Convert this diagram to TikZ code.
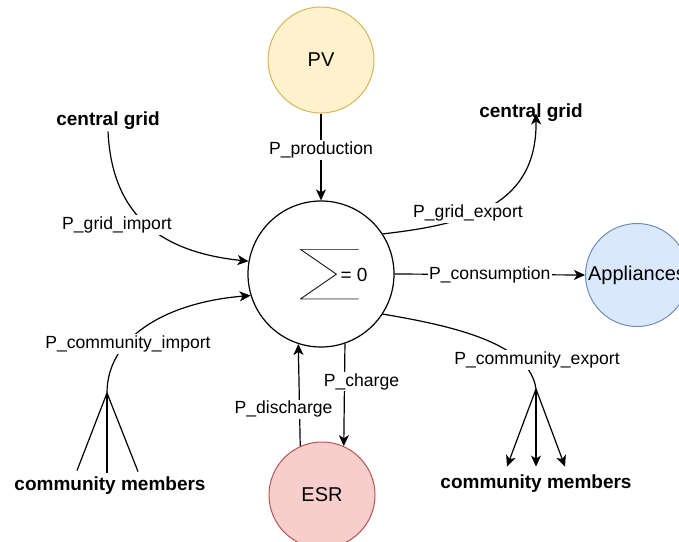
\documentclass[tikz,border=0pt]{standalone}
\usepackage{fontspec}
\setmainfont{Liberation Sans}
\newfontfamily\sigfont{Lato Thin}
\usetikzlibrary{arrows.meta}
\definecolor{pvfill}{HTML}{FFF2CC}
\definecolor{pvline}{HTML}{D6B656}
\definecolor{esrfill}{HTML}{F8CECC}
\definecolor{esrline}{HTML}{B85450}
\definecolor{appfill}{HTML}{DAE8FC}
\definecolor{appline}{HTML}{6C8EBF}
\newsavebox\sigbox
\begin{document}
\begin{tikzpicture}[x=1pt,y=-1pt,line width=1.2pt,
  lbl/.style={fill=white,inner sep=1.5pt,font=\fontsize{17.6}{20}\selectfont},
  ttl/.style={inner sep=1pt,font=\bfseries\fontsize{19}{22}\selectfont},
  arr/.style={-{Stealth[length=11pt,width=10pt,inset=3pt]}},
  ball/.style={circle,draw,line width=1pt,minimum size=106pt,inner sep=0pt,
    font=\fontsize{20}{24}\selectfont}]
\useasboundingbox (0,0) rectangle (679,541);

% balance node and the four devices
\node[ball,draw=black,line width=1.2pt,minimum size=146pt] (sum) at (321,274) {};
\node[inner sep=0pt,anchor=west] (sig) at (296,274.5)
  {\sbox\sigbox{\sigfont\fontsize{57}{57}\selectfont\scalebox{1.75}[1]{∑}}%
   \usebox\sigbox\kern-24pt%
   \raisebox{\dimexpr(\ht\sigbox-\dp\sigbox)/2-6.75pt\relax}{\fontsize{19}{22}\selectfont = 0}};
\node[ball,fill=pvfill,draw=pvline] (pv) at (321,60) {PV};
\node[ball,fill=esrfill,draw=esrline] (esr) at (322,495) {ESR};
\node[ball,fill=appfill,draw=appline,minimum size=103pt] (app) at (637,275) {Appliances};

% external parties
\node[ttl] (cgL) at (108,121) {central grid};
\node[ttl] (cgR) at (531,113) {central grid};
\node[ttl] (cmL) at (110,486) {community members};
\node[ttl] (cmR) at (536,484) {community members};
\coordinate (jL) at (107,393);
\coordinate (jR) at (536,389);

% power flows
\draw[arr] (pv.south) -- node[lbl,pos=0.42] (lpr) {P\_production} (sum.north);
\draw[arr] (cgL.south) .. controls (112,215) and (160,252) .. (sum.170);
\draw[arr] (jL) .. controls (107,335) and (170,302) .. (sum.197);
\draw (jL) -- ([xshift=-33pt,yshift=5pt]cmL.north);
\draw (jL) -- ([xshift=-3pt,yshift=3pt]cmL.north);
\draw (jL) -- ([xshift=28pt,yshift=4pt]cmL.north);
\draw[arr] (sum.33) .. controls (470,224) and (537,205) .. ([xshift=5pt,yshift=10pt]cgR.south);
\draw[arr] (sum.east) -- node[lbl] (lco) {P\_consumption} (app.west);
\draw (sum.-33) .. controls (460,327) and (530,345) .. (jR);
\draw[arr] (jR) -- ([xshift=-29pt,yshift=7pt]cmR.north);
\draw[arr] (jR) -- ([xshift=0pt,yshift=7pt]cmR.north);
\draw[arr] (jR) -- ([xshift=29pt,yshift=7pt]cmR.north);
\draw[arr] (sum.-71) -- node[lbl,pos=0.37,xshift=17pt] (lch) {P\_charge} (esr.66);
\draw[arr] (esr.114) -- node[lbl,pos=0.36,xshift=-16pt] (ldc) {P\_discharge} (sum.-108);

% flow labels sitting on the curved connectors
\node[lbl] (lgi) at (117,225) {P\_grid\_import};
\node[lbl] (lci) at (128,344) {P\_community\_import};
\node[lbl] (lge) at (468,213) {P\_grid\_export};
\node[lbl] (lce) at (537,360) {P\_community\_export};
\end{tikzpicture}
\end{document}
